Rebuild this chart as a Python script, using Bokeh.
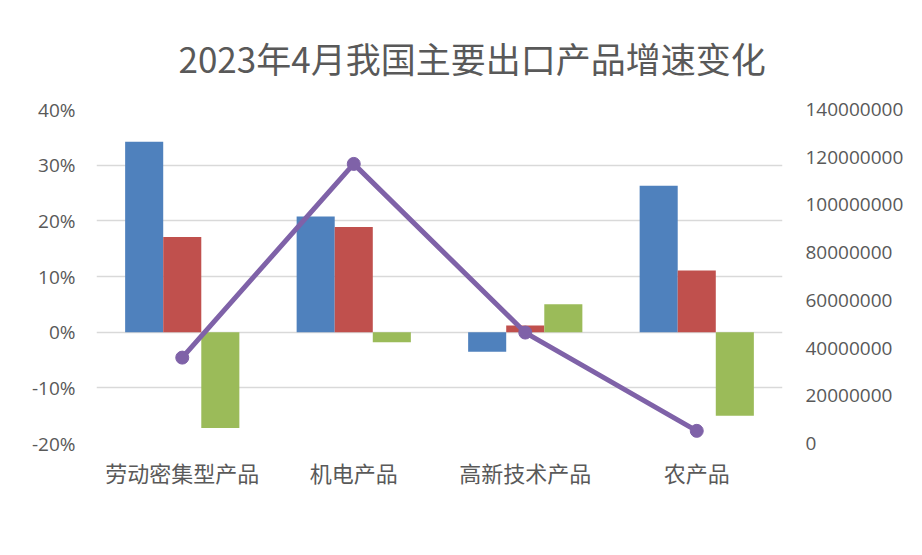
from bokeh.plotting import figure
from bokeh.models import (ColumnDataSource, FactorRange, Range1d, LinearAxis, Legend, LegendItem,
                          NumeralTickFormatter, FixedTicker)
from bokeh.transform import dodge
from bokeh.embed import file_html
from bokeh.resources import INLINE

categories = ["劳动密集型产品", "机电产品", "高新技术产品", "农产品"]
march_growth = [0.342, 0.208, -0.035, 0.263]
april_growth = [0.171, 0.189, 0.012, 0.111]
change_vs_last = [-0.172, -0.018, 0.050, -0.150]
april_volume = [36000000, 117200000, 46500000, 5300000]
series_names = ["3月增速", "4月增速", "较上月变化", "4月量值"]
left_ticks = [-0.2, -0.1, 0.0, 0.1, 0.2, 0.3, 0.4]
right_ticks = [0, 20000000, 40000000, 60000000, 80000000, 100000000, 120000000, 140000000]
title_text = "2023年4月我国主要出口产品增速变化"

FONT = "Noto Sans CJK SC"
NUM_FONT = "Open Sans"
GRAY = "#595959"

src = ColumnDataSource(dict(cat=categories, m=march_growth, a=april_growth,
                            c=change_vs_last, v=april_volume))

p = figure(frame_width=686, frame_height=334, x_range=FactorRange(*categories, range_padding=0),
           y_range=Range1d(-0.2, 0.4), output_backend="svg", toolbar_location=None,
           title=title_text,
           min_border_left=96, min_border_right=0, min_border_top=109, min_border_bottom=0)
p.extra_y_ranges = {"vol": Range1d(0, 140000000)}
p.outline_line_color = None

bw = 0.222
r1 = p.vbar(x=dodge("cat", -bw, range=p.x_range), top="m", bottom=0, width=bw, source=src,
            fill_color="#4F81BD", line_color=None)
r2 = p.vbar(x=dodge("cat", 0, range=p.x_range), top="a", bottom=0, width=bw, source=src,
            fill_color="#C0504D", line_color=None)
r3 = p.vbar(x=dodge("cat", bw, range=p.x_range), top="c", bottom=0, width=bw, source=src,
            fill_color="#9BBB59", line_color=None)
r4 = p.line(x="cat", y="v", source=src, y_range_name="vol", line_color="#7F62A8", line_width=5)
r5 = p.scatter(x="cat", y="v", source=src, y_range_name="vol", size=13, fill_color="#7F62A8",
               line_color="#7F62A8")

p.yaxis.ticker = FixedTicker(ticks=left_ticks)
p.yaxis.formatter = NumeralTickFormatter(format="0%")
ax = p.yaxis[0]
ax.axis_line_color = None
ax.major_tick_line_color = None
ax.minor_tick_line_color = None
ax.major_label_text_font = NUM_FONT
ax.major_label_text_font_size = "19px"
ax.major_label_text_color = GRAY
ax.major_label_standoff = 15

ra = LinearAxis(y_range_name="vol", ticker=FixedTicker(ticks=right_ticks),
                formatter=NumeralTickFormatter(format="0"))
ra.axis_line_color = None
ra.major_tick_line_color = None
ra.minor_tick_line_color = None
ra.major_label_text_font = NUM_FONT
ra.major_label_text_font_size = "19px"
ra.major_label_text_color = GRAY
ra.major_label_standoff = 17
p.add_layout(ra, "right")

xa = p.xaxis[0]
xa.axis_line_color = None
xa.major_tick_line_color = None
xa.minor_tick_line_color = None
xa.major_label_text_font = FONT
xa.major_label_text_font_size = "22px"
xa.major_label_text_color = GRAY
xa.major_label_standoff = 6

p.xgrid.grid_line_color = None
p.ygrid.grid_line_color = "#D9D9D9"
p.ygrid.grid_line_width = 1.5

p.title.align = "left"
p.title.offset = 82
p.title.standoff = 54
p.title.text_font = FONT
p.title.text_font_size = "35px"
p.title.text_color = GRAY
p.title.text_font_style = "normal"

legend = Legend(items=[LegendItem(label=series_names[0], renderers=[r1]),
                       LegendItem(label=series_names[1], renderers=[r2]),
                       LegendItem(label=series_names[2], renderers=[r3]),
                       LegendItem(label=series_names[3], renderers=[r4, r5])],
                location="top_left", orientation="horizontal", padding=0, margin=30,
                spacing=27, label_standoff=0, glyph_width=61, glyph_height=15,
                label_text_font=FONT, label_text_font_size="22px", label_text_color=GRAY,
                border_line_color=None, background_fill_alpha=0)
if hasattr(legend, "nrows"):
    legend.nrows = 1
p.add_layout(legend, "below")

open("out.html", "w").write(file_html(p, INLINE))
